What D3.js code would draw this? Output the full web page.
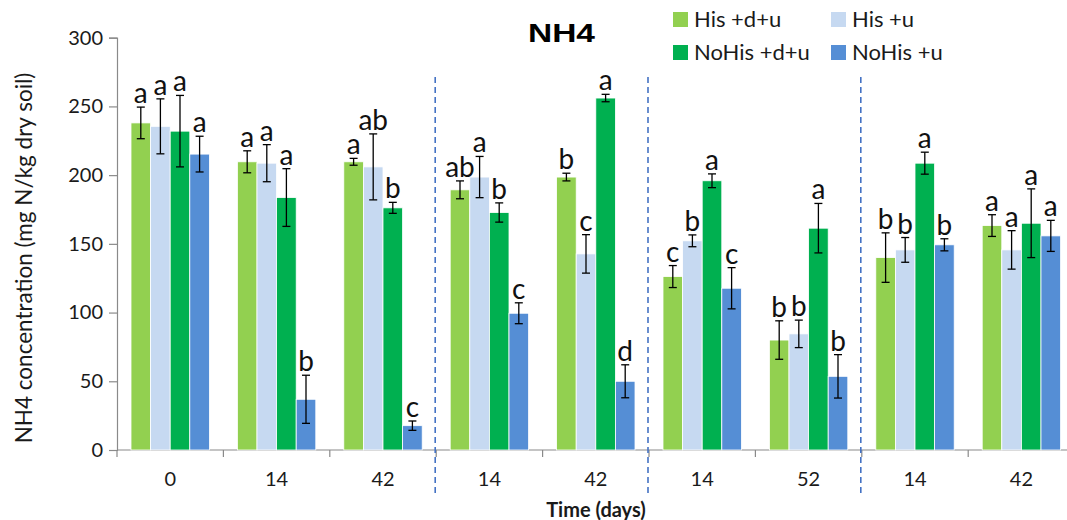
<!DOCTYPE html>
<html>
<head>
<meta charset="utf-8">
<script src="https://cdn.jsdelivr.net/npm/d3@7"></script>
<style>
  html, body { margin: 0; padding: 0; background: #fff; }
  svg { display: block; }
</style>
</head>
<body>
<svg id="chart" width="1067" height="520"></svg>
<script>
// NH4 concentration by treatment and sampling day
const days = ["0", "14", "42", "14", "42", "14", "52", "14", "42"];
const seriesNames = ["His +d+u", "His +u", "NoHis +d+u", "NoHis +u"];
const seriesColors = ["#92D050", "#C6D9F1", "#00B050", "#558ED5"];

const hisDU   = [238.0, 209.7, 209.7, 189.3, 198.6, 126.2, 80.0, 140.0, 163.3];
const hisU    = [235.5, 208.7, 206.0, 198.6, 142.7, 152.2, 84.5, 145.6, 145.6];
const noHisDU = [232.0, 183.7, 176.2, 172.8, 256.1, 195.9, 161.4, 208.7, 165.0];
const noHisU  = [215.3, 36.9, 17.7, 99.5, 50.0, 117.7, 53.6, 149.3, 155.8];

const hisDUErr   = [11.5, 8.0, 2.5, 6.5, 2.8, 8.0, 14.0, 18.0, 7.9];
const hisUErr    = [20.0, 13.5, 24.0, 15.0, 14.0, 4.3, 10.0, 9.0, 14.0];
const noHisDUErr = [26.0, 21.0, 4.0, 7.0, 2.7, 5.0, 18.0, 8.0, 25.0];
const noHisUErr  = [13.0, 17.5, 3.4, 7.6, 12.0, 15.0, 15.8, 4.4, 11.3];

const hisDULetters   = ["a", "a", "a", "ab", "b", "c", "b", "b", "a"];
const hisULetters    = ["a", "a", "ab", "a", "c", "b", "b", "b", "a"];
const noHisDULetters = ["a", "a", "b", "b", "a", "a", "a", "a", "a"];
const noHisULetters  = ["a", "b", "c", "c", "d", "c", "b", "b", "a"];

const yTicks = [0, 50, 100, 150, 200, 250, 300];
// experiment blocks are separated after these group positions
const separators = [3, 5, 7];

const values  = [hisDU, hisU, noHisDU, noHisU];
const errors  = [hisDUErr, hisUErr, noHisDUErr, noHisUErr];
const letters = [hisDULetters, hisULetters, noHisDULetters, noHisULetters];

const rows = [];
days.forEach((d, gi) => {
  seriesNames.forEach((s, si) => {
    rows.push({ group: gi, series: si, value: values[si][gi], err: errors[si][gi], letter: letters[si][gi] });
  });
});

const svg = d3.select("#chart");
const font = "Lato, 'Open Sans', sans-serif";
const axisColor = "#8a8a8a";
const textColor = "#1a1a1a";

const left = 117, groupW = 106.4;
const x = d3.scaleBand().domain(d3.range(days.length)).range([left, left + groupW * days.length]).padding(0);
const xs = d3.scaleBand().domain(d3.range(seriesNames.length)).range([14, groupW - 14]).padding(0);
const y = d3.scaleLinear().domain([0, 300]).range([450, 37.7]);

// y axis
const yAxis = svg.append("g").attr("transform", `translate(${left},0)`)
  .call(d3.axisLeft(y).tickValues(yTicks).tickSize(8).tickPadding(6));
yAxis.select(".domain").attr("stroke", axisColor).attr("stroke-width", 1.2);
yAxis.selectAll(".tick line").attr("stroke", axisColor).attr("stroke-width", 1.2);
yAxis.selectAll(".tick text").attr("font-family", font).attr("font-size", 20).attr("fill", textColor);

// x axis: ticks at group boundaries, labels at centres
const xAxisG = svg.append("g").attr("transform", `translate(0,${y(0)})`);
xAxisG.append("line").attr("x1", left).attr("x2", left + groupW * days.length)
  .attr("stroke", axisColor).attr("stroke-width", 1.2);
xAxisG.selectAll("line.tk").data(d3.range(days.length + 1)).join("line").attr("class", "tk")
  .attr("x1", i => left + i * groupW).attr("x2", i => left + i * groupW)
  .attr("y1", 0).attr("y2", 7).attr("stroke", axisColor).attr("stroke-width", 1.2);
xAxisG.selectAll("text").data(days).join("text")
  .attr("x", (d, i) => x(i) + x.bandwidth() / 2).attr("y", 36)
  .attr("text-anchor", "middle").attr("font-family", font).attr("font-size", 20).attr("fill", textColor)
  .text(d => d);

// bars
const groups = svg.append("g").selectAll("g").data(d3.range(days.length)).join("g")
  .attr("transform", gi => `translate(${x(gi)},0)`);

groups.selectAll("rect").data(gi => rows.filter(r => r.group === gi)).join("rect")
  .attr("x", d => xs(d.series)).attr("width", xs.bandwidth())
  .attr("y", d => y(d.value)).attr("height", d => y(0) - y(d.value))
  .attr("fill", d => seriesColors[d.series])
  .attr("stroke", "#ffffff").attr("stroke-width", 0.8);

// error bars
const eb = groups.selectAll("g.err").data(gi => rows.filter(r => r.group === gi)).join("g").attr("class", "err")
  .attr("stroke", "#000").attr("stroke-width", 1.3);
eb.append("line")
  .attr("x1", d => xs(d.series) + xs.bandwidth() / 2).attr("x2", d => xs(d.series) + xs.bandwidth() / 2)
  .attr("y1", d => y(d.value + d.err)).attr("y2", d => y(d.value - d.err));
eb.append("line")
  .attr("x1", d => xs(d.series) + xs.bandwidth() / 2 - 4).attr("x2", d => xs(d.series) + xs.bandwidth() / 2 + 4)
  .attr("y1", d => y(d.value + d.err)).attr("y2", d => y(d.value + d.err));
eb.append("line")
  .attr("x1", d => xs(d.series) + xs.bandwidth() / 2 - 4).attr("x2", d => xs(d.series) + xs.bandwidth() / 2 + 4)
  .attr("y1", d => y(d.value - d.err)).attr("y2", d => y(d.value - d.err));

// significance letters
groups.selectAll("text.sig").data(gi => rows.filter(r => r.group === gi)).join("text").attr("class", "sig")
  .attr("x", d => xs(d.series) + xs.bandwidth() / 2)
  .attr("y", d => y(d.value + d.err) - 4)
  .attr("text-anchor", "middle").attr("font-family", font).attr("font-size", 28).attr("fill", "#111")
  .text(d => d.letter);

// dashed separators between experiment blocks
svg.append("g").selectAll("line").data(separators).join("line")
  .attr("x1", s => left + s * groupW - 1).attr("x2", s => left + s * groupW - 1)
  .attr("y1", 77).attr("y2", 493)
  .attr("stroke", "#4472C4").attr("stroke-width", 1.6).attr("stroke-dasharray", "6,4");

// title
svg.append("text").attr("x", 561.5).attr("y", 42).attr("text-anchor", "middle")
  .attr("font-family", "'Liberation Sans', Arial, sans-serif").attr("font-weight", "bold")
  .attr("font-size", 25).attr("textLength", 67).attr("lengthAdjust", "spacingAndGlyphs")
  .attr("fill", "#000").text("NH4");

// axis titles
svg.append("text").attr("transform", "translate(32,258) rotate(-90)").attr("text-anchor", "middle")
  .attr("font-family", font).attr("font-size", 22.5).attr("fill", textColor)
  .text("NH4 concentration (mg N/kg dry soil)");
svg.append("text").attr("x", 596).attr("y", 517).attr("text-anchor", "middle")
  .attr("font-family", font).attr("font-weight", "bold").attr("font-size", 20).attr("fill", textColor)
  .text("Time (days)");

// legend
const legendPos = [[673, 12], [831, 12], [673, 45], [831, 45]];
const legend = svg.append("g").selectAll("g").data(seriesNames).join("g")
  .attr("transform", (d, i) => `translate(${legendPos[i][0]},${legendPos[i][1]})`);
legend.append("rect").attr("width", 15).attr("height", 15).attr("fill", (d, i) => seriesColors[i]);
legend.append("text").attr("x", 21).attr("y", 15).attr("font-family", font).attr("font-size", 22)
  .attr("fill", textColor).text(d => d);
</script>
</body>
</html>
